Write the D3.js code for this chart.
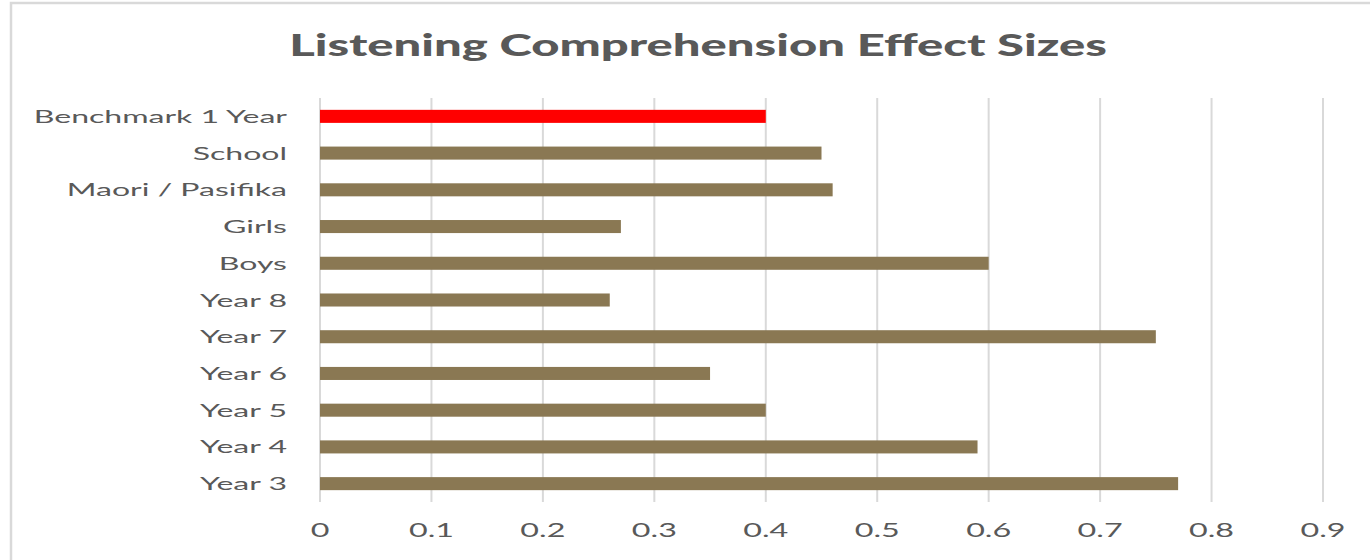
<!DOCTYPE html>
<html>
<head>
<meta charset="utf-8">
<script src="https://cdn.jsdelivr.net/npm/d3@7"></script>
<style>
  html, body { margin: 0; padding: 0; background: #fff; }
  svg { display: block; }
  text { font-family: Lato, "Open Sans", sans-serif; fill: #595959; }
</style>
</head>
<body>
<svg id="chart" width="1370" height="560"></svg>
<script>
// Effect sizes by group, listed top to bottom
const categories = ["Benchmark 1 Year", "School", "Maori / Pasifika", "Girls", "Boys",
                    "Year 8", "Year 7", "Year 6", "Year 5", "Year 4", "Year 3"];
const effectSizes = [0.40, 0.45, 0.46, 0.27, 0.60, 0.26, 0.75, 0.35, 0.40, 0.59, 0.77];
const tickValues = [0, 0.1, 0.2, 0.3, 0.4, 0.5, 0.6, 0.7, 0.8, 0.9];
const titleText = "Listening Comprehension Effect Sizes";

const W = 1370, H = 560;
const margin = { top: 98, right: 47, bottom: 58, left: 320 };

const svg = d3.select("#chart");

// chart frame (left and top edges show)
svg.append("rect")
  .attr("x", 11).attr("y", 3)
  .attr("width", W + 20).attr("height", H + 20)
  .attr("fill", "#fff").attr("stroke", "#d9d9d9").attr("stroke-width", 2.5);

const x = d3.scaleLinear().domain([0, 0.9]).range([margin.left, W - margin.right]);
const y = d3.scaleBand().domain(categories)
  .range([margin.top, H - margin.bottom]).paddingInner(0.645).paddingOuter(0.3225);

// vertical gridlines
svg.append("g").selectAll("line").data(tickValues).join("line")
  .attr("x1", d => x(d)).attr("x2", d => x(d))
  .attr("y1", margin.top).attr("y2", H - margin.bottom)
  .attr("stroke", "#d9d9d9").attr("stroke-width", 2);

// bars
svg.append("g").selectAll("rect").data(categories).join("rect")
  .attr("x", x(0))
  .attr("y", d => y(d))
  .attr("width", (d, i) => x(effectSizes[i]) - x(0))
  .attr("height", y.bandwidth())
  .attr("fill", (d, i) => i === 0 ? "#ff0000" : "#8a7853");

// wide, squat lettering
function stretchedText(g, tx, ty, str, anchor, sx) {
  g.append("text")
    .attr("transform", `translate(${tx},${ty}) scale(${sx},1)`)
    .attr("text-anchor", anchor)
    .text(str);
}

// category labels
const catG = svg.append("g").style("font-size", "18px");
categories.forEach(c => {
  stretchedText(catG, 287, y(c) + y.bandwidth() / 2 + 6.5, c, "end", 1.78);
});

// x tick labels
const tickG = svg.append("g").style("font-size", "19px");
tickValues.forEach(t => {
  stretchedText(tickG, x(t), 537, d3.format("~g")(t), "middle", 1.7);
});

// title
const titleG = svg.append("g").style("font-size", "31px").style("font-weight", "900");
stretchedText(titleG, 698, 56, titleText, "middle", 1.58);
</script>
</body>
</html>
